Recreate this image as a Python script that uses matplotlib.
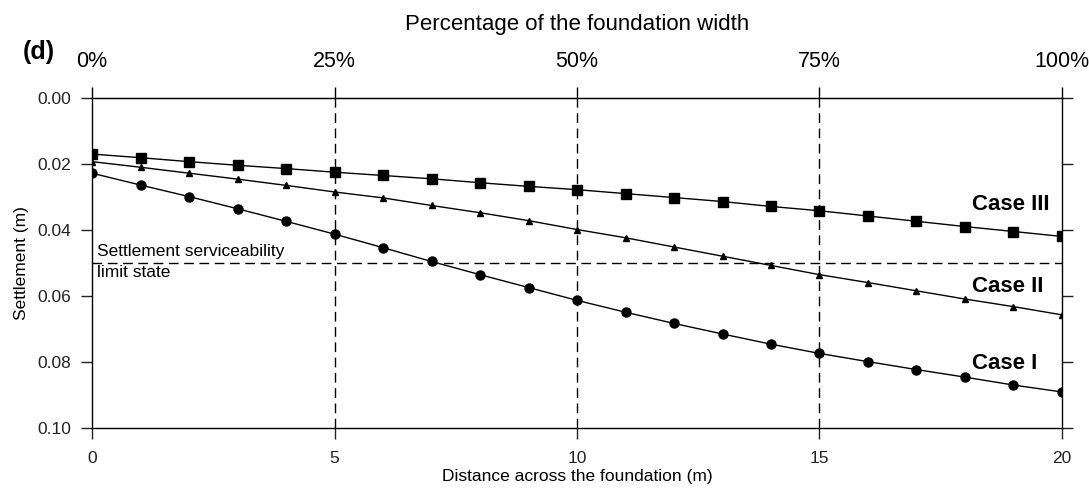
import numpy as np
import matplotlib
matplotlib.use("Agg")
import matplotlib.pyplot as plt
from matplotlib.ticker import FormatStrFormatter

plt.rcParams['font.family'] = ['Liberation Sans', 'DejaVu Sans']

# distance across the foundation (m)
distance = np.arange(0, 21)

# settlement (m)
case_1 = [0.0228, 0.0264, 0.0299, 0.0336, 0.0374, 0.0413, 0.0454, 0.0496, 0.0536, 0.0575,
          0.0614, 0.0650, 0.0684, 0.0716, 0.0747, 0.0775, 0.0800, 0.0824, 0.0847, 0.0871, 0.0892]
case_2 = [0.0193, 0.0210, 0.0228, 0.0246, 0.0265, 0.0285, 0.0303, 0.0326, 0.0348, 0.0372,
          0.0399, 0.0424, 0.0452, 0.0480, 0.0508, 0.0536, 0.0560, 0.0585, 0.0610, 0.0633, 0.0658]
case_3 = [0.0170, 0.0181, 0.0193, 0.0204, 0.0214, 0.0225, 0.0235, 0.0245, 0.0257, 0.0268,
          0.0278, 0.0290, 0.0302, 0.0314, 0.0329, 0.0342, 0.0358, 0.0374, 0.0390, 0.0405, 0.0420]

limit_state = 0.05
x_ticks = [0, 5, 10, 15, 20]
pct_ticks = [0, 25, 50, 75, 100]
y_ticks = [0.00, 0.02, 0.04, 0.06, 0.08, 0.10]

fig = plt.figure(figsize=(10.89, 4.96), dpi=100)
ax = fig.add_axes([0.0845, 0.138, 0.8907, 0.6643])

ax.plot(distance, case_1, '-o', color='black', lw=1.0, ms=6.5)
ax.plot(distance, case_2, '-^', color='black', lw=1.0, ms=5)
ax.plot(distance, case_3, '-s', color='black', lw=1.0, ms=6.5)

# grid lines at quarter widths and the limit state
for xv in x_ticks[1:-1]:
    ax.axvline(xv, color='black', lw=1.0, dashes=(7, 4), zorder=1)
ax.axhline(limit_state, color='black', lw=1.0, dashes=(7, 4), zorder=1)

ax.text(0.1, limit_state - 0.0012, 'Settlement serviceability', fontsize=12.5, va='bottom')
ax.text(0.1, limit_state + 0.0008, 'limit state', fontsize=12.5, va='top')

ax.text(18.15, 0.0323, 'Case III', fontsize=16, fontweight='bold', va='center')
ax.text(18.15, 0.0572, 'Case II', fontsize=16, fontweight='bold', va='center')
ax.text(18.15, 0.0806, 'Case I', fontsize=16, fontweight='bold', va='center')

ax.set_xlim(0, 20)
ax.set_ylim(0.10, 0.00)
ax.set_xticks(x_ticks)
ax.set_yticks(y_ticks)
ax.yaxis.set_major_formatter(FormatStrFormatter('%.2f'))
ax.tick_params(direction='out', length=8, width=1.0, labelsize=12.5, right=True, colors='#222222')
ax.tick_params(axis='x', pad=9)
ax.tick_params(axis='y', pad=7)
for s in ax.spines.values():
    s.set_linewidth(1.0)

ax.set_xlabel('Distance across the foundation (m)', fontsize=12.5, labelpad=2)
ax.set_ylabel('Settlement (m)', fontsize=12.5, labelpad=6)

top = ax.secondary_xaxis('top', functions=(lambda x: x * 5, lambda p: p / 5))
top.set_xticks(pct_ticks)
top.set_xticklabels([f'{p}%' for p in pct_ticks])
top.tick_params(direction='out', length=8, width=1.0, labelsize=15.5, pad=11)
top.set_xlabel('Percentage of the foundation width', fontsize=16, labelpad=15)

fig.text(0.021, 0.895, '(d)', fontsize=18, fontweight='bold', va='center')

fig.savefig('out.png', dpi=100, facecolor='white')
